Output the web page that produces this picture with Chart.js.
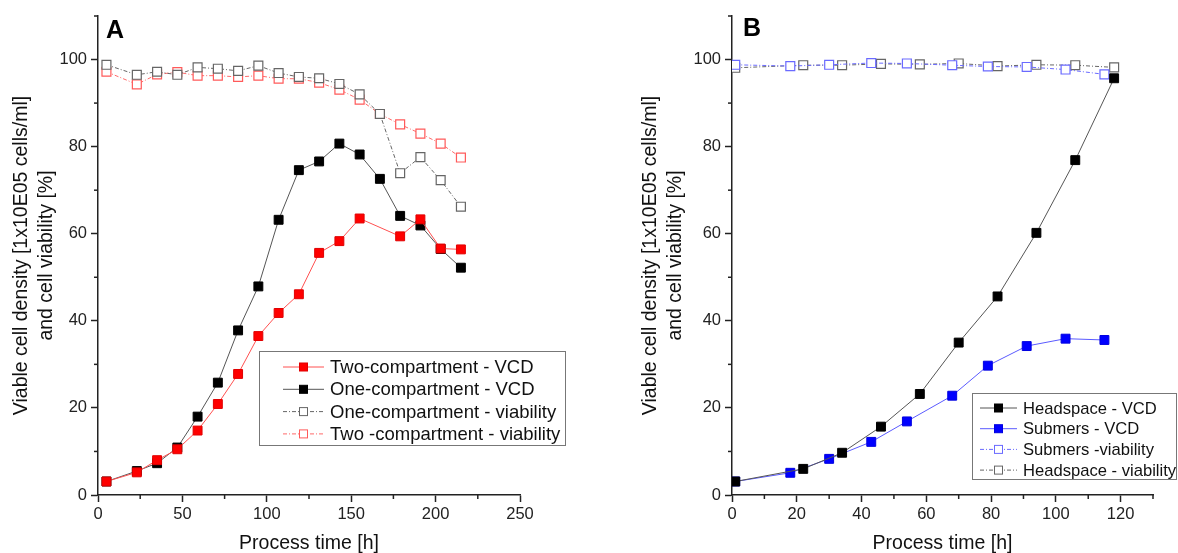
<!DOCTYPE html>
<html><head><meta charset="utf-8">
<script src="https://cdn.jsdelivr.net/npm/chart.js@4/dist/chart.umd.min.js"></script>
<style>
html,body{margin:0;padding:0;background:#fff;}
#wrap{position:relative;width:1178px;height:553px;overflow:hidden;background:#fff;}
.pane{position:absolute;top:0;width:589px;height:553px;}
</style></head><body>
<div id="wrap">
<div class="pane" style="left:0"><canvas id="cA" width="589" height="553"></canvas></div>
<div class="pane" style="left:589px"><canvas id="cB" width="589" height="553"></canvas></div>
</div>
<script>
// ---- Panel A data ----
const timeA = [5,23,35,47,59,71,83,95,107,119,131,143,155,167,179,191,203,215];
const timeA_twoVCD = [5,23,35,47,59,71,83,95,107,119,131,143,155,179,191,203,215];
const twoCompVCD = [3.1,5.2,8.0,10.5,14.8,20.9,27.8,36.5,41.8,46.1,55.6,58.3,63.5,59.4,63.3,56.6,56.4];
const oneCompVCD = [3.1,5.5,7.3,10.9,18.0,25.8,37.8,47.9,63.2,74.6,76.6,80.7,78.2,72.6,64.1,61.9,56.5,52.2];
const oneCompViab = [98.8,96.5,97.2,96.5,98.2,97.9,97.4,98.6,96.9,96.0,95.7,94.4,92.0,87.5,73.9,77.6,72.3,66.2];
const twoCompViab = [97.2,94.3,96.6,97.1,96.3,96.3,96.0,96.3,95.6,95.6,94.7,93.1,90.8,87.5,85.1,83.0,80.7,77.5];
const labelsA = ['Two-compartment - VCD','One-compartment - VCD','One-compartment - viability','Two -compartment - viability'];

// ---- Panel B data ----
const timeHead = [1,22,34,46,58,70,82,94,106,118];
const headVCD = [3.1,6.0,9.7,15.7,23.2,35.0,45.6,60.2,76.9,95.7];
const headViab = [98.1,98.7,98.7,99.0,98.9,99.1,98.5,98.8,98.7,98.2];
const timeSub = [1,18,30,43,54,68,79,91,103,115];
const subVCD = [3.1,5.1,8.3,12.2,16.9,22.8,29.7,34.2,35.9,35.6];
const subViab = [98.8,98.5,98.8,99.2,99.1,98.7,98.4,98.3,97.7,96.6];
const labelsB = ['Headspace - VCD','Submers - VCD','Submers -viability','Headspace - viability'];

// ---- axis ticks ----
const yTicks = [0,20,40,60,80,100];
const xTicksA = [0,50,100,150,200,250];
const xTicksB = [0,20,40,60,80,100,120];

const yTitle = ['Viable cell density [1x10E05 cells/ml]','and cell viability [%]'];
const xTitle = 'Process time [h]';

const FONT = "'Liberation Sans', Arial, Helvetica, sans-serif";
Chart.defaults.font.family = FONT;
Chart.defaults.color = '#222';

function pts(xs, ys){ return xs.map((x,i)=>({x:x, y:ys[i]})); }

const DASH = [4,2,1,2];
function vcd(label, xs, ys, line, fill, border){
  return {label, data: pts(xs,ys), borderColor: line, borderWidth: 1, borderDash: [],
    pointStyle:'rect', pointRadius:6.3, pointHoverRadius:6.3, pointBackgroundColor: fill,
    pointBorderColor: border, pointBorderWidth:1, tension:0, fill:false};
}
function via(label, xs, ys, line, border){
  return {label, data: pts(xs,ys), borderColor: line, borderWidth: 1, borderDash: DASH,
    pointStyle:'rect', pointRadius:6.3, pointHoverRadius:6.3, pointBackgroundColor: '#fff',
    pointBorderColor: border, pointBorderWidth:1.2, tension:0, fill:false};
}

const decor = {
  id: 'decor',
  afterDraw(chart, args, o) {
    const ctx = chart.ctx, xs = chart.scales.x, ys = chart.scales.y;
    ctx.save();
    ctx.strokeStyle = '#222'; ctx.lineWidth = 1.5; ctx.setLineDash([]);
    for (let v = xs.min + o.xMinor; v < xs.max + 1e-9; v += o.xMinor) {
      if (Math.abs(v / o.xMajor - Math.round(v / o.xMajor)) < 1e-6) continue;
      const px = xs.getPixelForValue(v);
      ctx.beginPath(); ctx.moveTo(px, ys.bottom); ctx.lineTo(px, ys.bottom + 4); ctx.stroke();
    }
    for (let v = ys.min + o.yMinor; v < ys.max + 1e-9; v += o.yMinor) {
      if (Math.abs(v / o.yMajor - Math.round(v / o.yMajor)) < 1e-6) continue;
      const py = ys.getPixelForValue(v);
      ctx.beginPath(); ctx.moveTo(xs.left, py); ctx.lineTo(xs.left - 4, py); ctx.stroke();
    }
    // panel letter
    ctx.fillStyle = '#000'; ctx.font = 'bold 25px ' + FONT; ctx.textBaseline = 'top'; ctx.textAlign = 'left';
    ctx.fillText(o.letter, chart.chartArea.left + o.letterDx, o.letterY);
    // legend
    const L = o.legend;
    ctx.fillStyle = '#fff'; ctx.fillRect(L.x, L.y, L.w, L.h);
    ctx.lineWidth = 1; ctx.strokeStyle = '#777';
    ctx.strokeRect(L.x + 0.5, L.y + 0.5, L.w, L.h);
    chart.data.datasets.forEach((ds, i) => {
      const cy = L.y + L.first + i * L.rowH;
      ctx.strokeStyle = ds.borderColor; ctx.lineWidth = 1; ctx.setLineDash(ds.borderDash || []);
      ctx.beginPath(); ctx.moveTo(L.x1, cy); ctx.lineTo(L.x2, cy); ctx.stroke();
      ctx.setLineDash([]);
      const s = L.mark, mx = (L.x1 + L.x2) / 2;
      ctx.fillStyle = ds.pointBackgroundColor; ctx.fillRect(mx - s/2, cy - s/2, s, s);
      ctx.strokeStyle = ds.pointBorderColor; ctx.strokeRect(mx - s/2, cy - s/2, s, s);
      ctx.fillStyle = '#111'; ctx.font = L.font + 'px ' + FONT; ctx.textBaseline = 'middle';
      ctx.fillText(ds.label, L.tx, cy + 1);
    });
    ctx.restore();
  }
};

function makeOptions(xMax, xStep, xTickList, padL, yWidth, padR, decorOpts){
  return {
    responsive:false, animation:false, events:[],
    layout:{padding:{left:padL, right:padR, top:16, bottom:0}},
    plugins:{legend:{display:false}, tooltip:{enabled:false}, decor: decorOpts},
    scales:{
      x:{type:'linear', min:0, max:xMax,
        afterFit(s){ s.height = 58; },
        afterBuildTicks(s){ s.ticks = xTickList.map(v=>({value:v})); },
        ticks:{stepSize:xStep, font:{size:16.5}, color:'#222', padding:3, maxRotation:0, autoSkip:false},
        grid:{drawOnChartArea:false, drawTicks:true, tickLength:7, tickColor:'#222', tickWidth:1.5},
        border:{display:true, color:'#222', width:1.5},
        title:{display:true, text:xTitle, font:{size:19.5, lineHeight:1}, color:'#111', padding:{top:0,bottom:0}}
      },
      y:{type:'linear', min:0, max:110,
        afterFit(s){ s.width = yWidth; },
        afterBuildTicks(s){ s.ticks = yTicks.map(v=>({value:v})); },
        ticks:{stepSize:20, font:{size:16.5}, color:'#222', padding:4},
        grid:{drawOnChartArea:false, drawTicks:true, tickLength:7, tickColor:'#222', tickWidth:1.5},
        border:{display:true, color:'#222', width:1.5},
        title:{display:true, text:yTitle, font:{size:19.5, lineHeight:25/19.5}, color:'#111', padding:{top:9.5,bottom:0}}
      }
    }
  };
}

new Chart(document.getElementById('cA'), {
  type:'line',
  data:{datasets:[
    vcd(labelsA[0], timeA_twoVCD, twoCompVCD, '#ff5050', '#ff0000', '#e00000'),
    vcd(labelsA[1], timeA, oneCompVCD, '#555555', '#000000', '#000000'),
    via(labelsA[2], timeA, oneCompViab, '#666666', '#666666'),
    via(labelsA[3], timeA, twoCompViab, '#ff6a6a', '#ff5a5a')
  ]},
  options: makeOptions(250, 50, xTicksA, 0, 98, 69, {
    xMinor:25, xMajor:50, yMinor:10, yMajor:20, letter:'A', letterDx:8, letterY:19,
    legend:{x:259, y:351, w:306, h:94, first:16, rowH:22.3, x1:283, x2:324, tx:330, mark:8, font:18.5}
  }),
  plugins:[decor]
});

new Chart(document.getElementById('cB'), {
  type:'line',
  data:{datasets:[
    vcd(labelsB[0], timeHead, headVCD, '#555555', '#000000', '#000000'),
    vcd(labelsB[1], timeSub, subVCD, '#5a5aff', '#0000ff', '#0000e0'),
    via(labelsB[2], timeSub, subViab, '#6a6aff', '#6a6aff'),
    via(labelsB[3], timeHead, headViab, '#666666', '#666666')
  ]},
  options: makeOptions(130, 20, xTicksB, 40, 103, 25, {
    xMinor:10, xMajor:20, yMinor:10, yMajor:20, letter:'B', letterDx:11, letterY:17,
    legend:{x:383, y:393, w:204, h:86, first:15, rowH:20.7, x1:391, x2:428, tx:434, mark:8, font:16.6}
  }),
  plugins:[decor]
});
</script>
</body></html>
